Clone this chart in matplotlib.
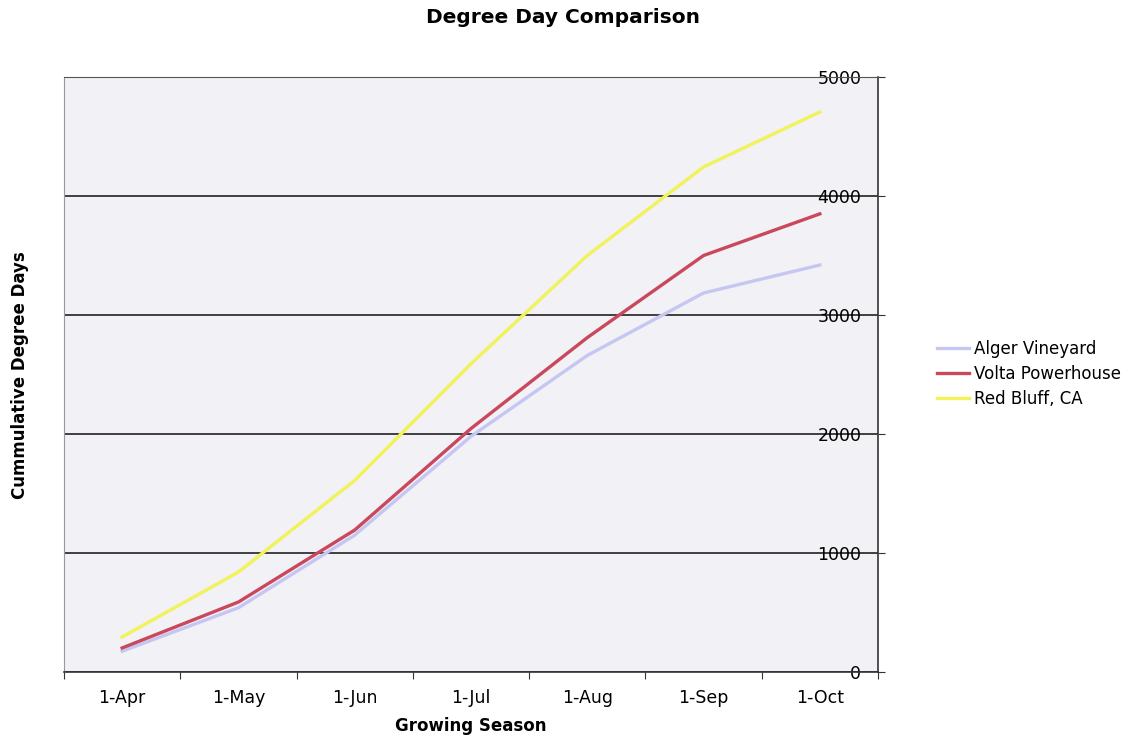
import matplotlib.pyplot as plt
import numpy as np

# Data
months = ['1-Apr', '1-May', '1-Jun', '1-Jul', '1-Aug', '1-Sep', '1-Oct']
alger = [175, 540, 1150, 1980, 2660, 3185, 3420]
volta = [202, 588, 1193, 2046, 2810, 3500, 3850]
red_bluff = [294, 840, 1610, 2590, 3500, 4244, 4706]
y_ticks = [0, 1000, 2000, 3000, 4000, 5000]

plt.rcParams['font.family'] = 'DejaVu Sans'

fig = plt.figure(figsize=(11.25, 7.4), dpi=100)
ax = fig.add_axes([64 / 1125, 1 - 672 / 740, 814 / 1125, 595 / 740])
ax.set_facecolor('#f1f1f6')

x = np.arange(len(months))
ax.plot(x, alger, color='#c6c6f2', lw=2.4, label='Alger Vineyard', zorder=3)
ax.plot(x, volta, color='#c9485c', lw=2.4, label='Volta Powerhouse', zorder=4)
ax.plot(x, red_bluff, color='#f2f25a', lw=2.4, label='Red Bluff, CA', zorder=3)

ax.set_xlim(-0.5, len(months) - 0.5)
ax.set_ylim(0, 5000)

# category boundaries get the tick marks, labels sit in between
ax.set_xticks(np.arange(-0.5, len(months), 1.0))
ax.set_xticklabels([])
ax.set_xticks(x, minor=True)
ax.set_xticklabels(months, minor=True, fontsize=12.5)
ax.tick_params(axis='x', which='major', direction='out', length=5, color='#333333')
ax.tick_params(axis='x', which='minor', length=0, pad=12)

# value axis on the right, labels drawn inside the plot area
ax.yaxis.tick_right()
ax.set_yticks(y_ticks)
ax.set_yticklabels([str(v) for v in y_ticks], fontsize=12.5)
ax.tick_params(axis='y', direction='out', length=5, pad=-17, color='#333333')
for lbl in ax.get_yticklabels():
    lbl.set_horizontalalignment('right')

ax.yaxis.grid(True, color='#222222', lw=1.2)
ax.set_axisbelow(True)

ax.spines['left'].set_color('#9a9a9a')
ax.spines['top'].set_color('#555555')
ax.spines['right'].set_color('#333333')
ax.spines['bottom'].set_color('#333333')
ax.spines['right'].set_linewidth(1.2)
ax.spines['bottom'].set_linewidth(1.2)

fig.text(0.5, 0.977, 'Degree Day Comparison', ha='center', va='center',
         fontsize=14.5, fontweight='bold')
fig.text(471 / 1125, 1 - 726 / 740, 'Growing Season', ha='center', va='center',
         fontsize=12, fontweight='bold')
fig.text(20 / 1125, 1 - 375 / 740, 'Cummulative Degree Days', ha='center', va='center',
         rotation=90, fontsize=12, fontweight='bold')

fig.legend(loc='center left', bbox_to_anchor=(922 / 1125, 1 - 374 / 740),
           frameon=False, fontsize=12, handlelength=1.9, handletextpad=0.35,
           labelspacing=0.4)

fig.savefig('out.png', dpi=100)
